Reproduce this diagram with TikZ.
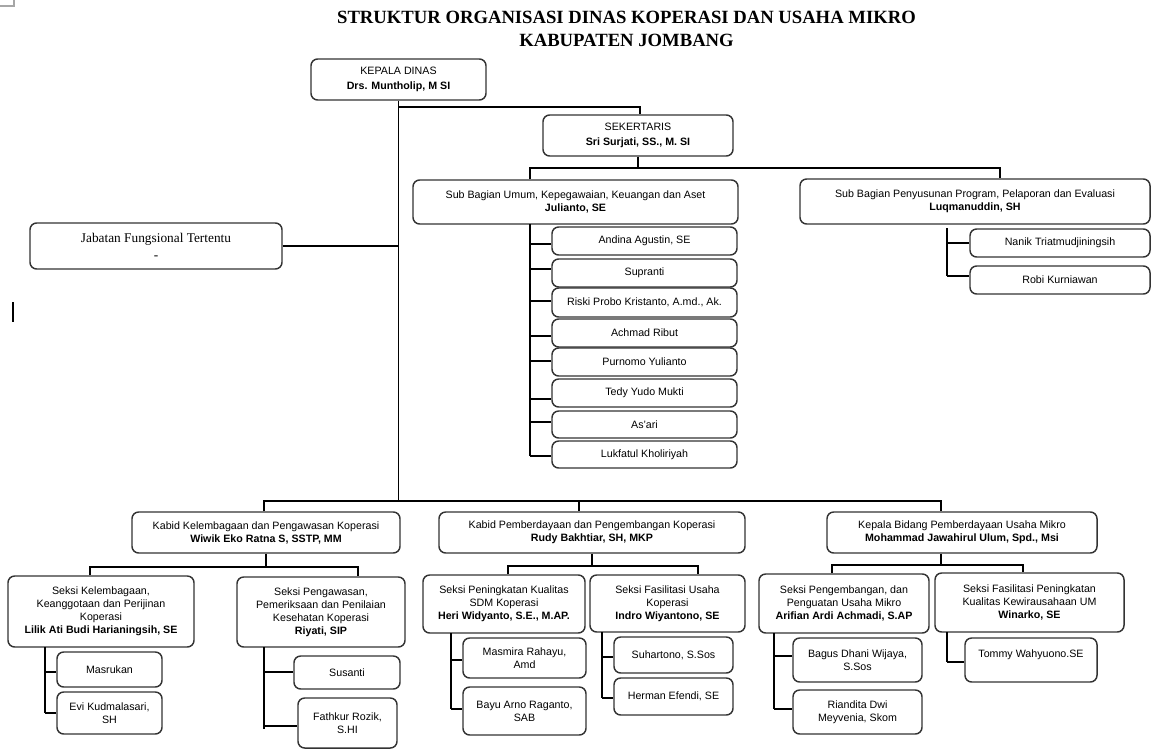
\documentclass[tikz,border=0pt]{standalone}
\usepackage{fontspec}
\setmainfont{Liberation Sans}
\newfontfamily\serifrm{Liberation Serif}

\tikzset{
    box/.style 2 args={draw=black!80, line width=1.1pt, rounded corners=5pt,
        minimum width=#1*0.75pt, minimum height=#2*0.75pt, inner sep=1pt,
        align=center, font=\fontsize{8}{9.75}\selectfont},
    wire/.style={line width=1.1pt},
}

\begin{document}
\begin{tikzpicture}[x=0.75pt, y=-0.75pt]
    \useasboundingbox (0,0) rectangle (1152,751);

    % page corner and cursor
    \draw[black!35, line width=0.8pt] (0,6) -- (14,6) -- (14,0);
    \draw[line width=1.4pt] (13,302) -- (13,322);

    % Title
    \node[align=center, font=\serifrm\bfseries\fontsize{14}{17}\selectfont] (title) at (626.5,29)
        {STRUKTUR ORGANISASI DINAS KOPERASI DAN USAHA MIKRO\\KABUPATEN JOMBANG};

    % Kepala dinas, sekertaris, jabatan fungsional
    \node[box={175}{41}] (kd) at (398.5,79.5) {KEPALA DINAS\\[1.5pt]\textbf{Drs. Muntholip, M SI}};
    \node[box={190}{41}] (sek) at (638,135.5) {SEKERTARIS\\[1.5pt]\textbf{Sri Surjati, SS., M. SI}};
    \node[box={252}{46}, font=\serifrm\fontsize{10}{12.75}\selectfont] (jft) at (156,246)
        {Jabatan Fungsional Tertentu\\-};

    \coordinate (kdR) at (640,107);
    \coordinate (busL) at (264,501);
    \coordinate (busM) at (579,501);
    \coordinate (busR) at (941,501);
    \draw[wire] (kd.south) -- (kd.south |- busL);
    \draw[wire] (kd.south |- kdR) -- (kdR) -- (sek.north -| kdR);
    \draw[wire] (jft.east) -- (jft.east -| kd.south);

    % Sub bagian
    \node[box={325}{44}] (sbu) at (575.5,202) {Sub Bagian Umum, Kepegawaian, Keuangan dan Aset\\\textbf{Julianto, SE}};
    \node[box={350}{45}] (sbp) at (975,201.5) {Sub Bagian Penyusunan Program, Pelaporan dan Evaluasi\\\textbf{Luqmanuddin, SH}};
    \coordinate (sekL) at (530,168);
    \coordinate (sekR) at (1000,168);
    \draw[wire] (sek.south) -- (sek.south |- sekL);
    \draw[wire] (sbu.north -| sekL) |- (sekR) -- (sbp.north -| sekR);

    % staf umum
    \coordinate (spU) at (530,224);
    \draw[wire] (spU) -- (spU |- 0,456);
    \foreach \n/\y/\h/\s/\t in {andina/241/28/244/{Andina Agustin, SE}, supranti/273/28/269/Supranti,
        riski/302.5/29/301/{Riski Probo Kristanto, A.md., Ak.}, achmad/333/28/336/Achmad Ribut,
        purnomo/362/28/361/Purnomo Yulianto, tedy/393/28/399/Tedy Yudo Mukti,
        asari/424.5/27/422/As'ari, lukfatul/454.5/27/456/Lukfatul Kholiriyah} {
        \node[box={185}{\h}] (\n) at (644.5,\y) {\t};
        \draw[wire] (spU |- 0,\s) -- (\n.west |- 0,\s);
    }

    % staf penyusunan program
    \coordinate (spP) at (947,228);
    \draw[wire] (spP) -- (spP |- 0,276);
    \foreach \n/\y/\s/\t in {nanik/243/243/Nanik Triatmudjiningsih, robi/280/276/Robi Kurniawan} {
        \node[box={180}{28}] (\n) at (1060,\y) {\t};
        \draw[wire] (spP |- 0,\s) -- (\n.west |- 0,\s);
    }

    % Kabid
    \node[box={268}{41}] (kk) at (266,532.5) {Kabid Kelembagaan dan Pengawasan Koperasi\\\textbf{Wiwik Eko Ratna S, SSTP, MM}};
    \node[box={306}{41}] (kp) at (592,532.5) {Kabid Pemberdayaan dan Pengembangan Koperasi\\\textbf{Rudy Bakhtiar, SH, MKP}};
    \node[box={270}{41}] (kum) at (962,532.5) {Kepala Bidang Pemberdayaan Usaha Mikro\\\textbf{Mohammad Jawahirul Ulum, Spd., Msi}};
    \draw[wire] (kk.north -| busL) |- (busR) -- (kum.north -| busR);
    \draw[wire] (busM) -- (kp.north -| busM);

    % Seksi under kabid kelembagaan
    \node[box={186}{71}] (skk) at (101,611.5) {Seksi Kelembagaan,\\Keanggotaan dan Perijinan\\Koperasi\\\textbf{Lilik Ati Budi Harianingsih, SE}};
    \node[box={168}{70}] (spw) at (321,612) {Seksi Pengawasan,\\Pemeriksaan dan Penilaian\\Kesehatan Koperasi\\\textbf{Riyati, SIP}};
    \coordinate (kkL) at (90,567);
    \coordinate (kkR) at (358,567);
    \draw[wire] (kk.south) -- (kk.south |- kkL);
    \draw[wire] (skk.north -| kkL) |- (kkR) -- (spw.north -| kkR);

    \node[box={105}{35}] (masrukan) at (109.5,669.5) {Masrukan};
    \node[box={105}{42}] (evi) at (109.5,713) {Evi Kudmalasari,\\SH};
    \node[box={106}{33}] (susanti) at (347,672.5) {Susanti};
    \node[box={99}{50}] (fathkur) at (347.5,723) {Fathkur Rozik,\\S.HI};
    \coordinate (spK) at (45,647);
    \coordinate (spW) at (264,647);
    \draw[wire] (spK) -- (spK |- 0,713);
    \draw[wire] (spW) -- (spW |- 0,729);
    \foreach \n/\s in {masrukan/672, evi/713} \draw[wire] (spK |- 0,\s) -- (\n.west |- 0,\s);
    \foreach \n/\s in {susanti/672, fathkur/726} \draw[wire] (spW |- 0,\s) -- (\n.west |- 0,\s);

    % Seksi under kabid pemberdayaan koperasi
    \node[box={162}{58}] (spk) at (504,604) {Seksi Peningkatan Kualitas\\SDM Koperasi\\\textbf{Heri Widyanto, S.E., M.AP.}};
    \node[box={155}{57}] (sfu) at (667.5,603.5) {Seksi Fasilitasi Usaha\\Koperasi\\\textbf{Indro Wiyantono, SE}};
    \coordinate (kpL) at (508,566);
    \coordinate (kpR) at (698,566);
    \draw[wire] (kp.south) -- (kp.south |- kpL);
    \draw[wire] (spk.north -| kpL) |- (kpR) -- (sfu.north -| kpR);

    \node[box={123}{40}] (masmira) at (524.5,658) {Masmira Rahayu,\\Amd};
    \node[box={123}{48}] (bayu) at (524.5,711) {Bayu Arno Raganto,\\SAB};
    \node[box={119}{36}] (suhartono) at (673.5,655) {Suhartono, S.Sos};
    \node[box={119}{37}] (herman) at (673.5,696.5) {Herman Efendi, SE};
    \coordinate (spQ) at (451,633);
    \coordinate (spF) at (602,632);
    \draw[wire] (spQ) -- (spQ |- 0,709);
    \draw[wire] (spF) -- (spF |- 0,698);
    \foreach \n/\s in {masmira/660, bayu/709} \draw[wire] (spQ |- 0,\s) -- (\n.west |- 0,\s);
    \foreach \n/\s in {suhartono/657, herman/698} \draw[wire] (spF |- 0,\s) -- (\n.west |- 0,\s);

    % Seksi under kepala bidang usaha mikro
    \node[box={170}{59}] (spg) at (844,603.5) {Seksi Pengembangan, dan\\Penguatan Usaha Mikro\\\textbf{Arifian Ardi Achmadi, S.AP}};
    \node[box={189}{59}] (sfp) at (1029.5,602.5) {Seksi Fasilitasi Peningkatan\\Kualitas Kewirausahaan UM\\\textbf{Winarko, SE}};
    \coordinate (kumL) at (832,565);
    \coordinate (kumR) at (1023,565);
    \draw[wire] (kum.south -| busR) -- (busR |- kumL);
    \draw[wire] (spg.north -| kumL) |- (kumR) -- (sfp.north -| kumR);

    \node[box={129}{44}] (bagus) at (857.5,660) {Bagus Dhani Wijaya,\\S.Sos};
    \node[box={129}{44}] (riandita) at (857.5,712) {Riandita Dwi\\Meyvenia, Skom};
    \node[box={132}{44}] (tommy) at (1031,660) {Tommy Wahyuono.SE\\~};
    \coordinate (spG) at (774,633);
    \coordinate (spT) at (947,632);
    \draw[wire] (spG) -- (spG |- 0,709);
    \draw[wire] (spT) -- (spT |- 0,662);
    \foreach \n/\s in {bagus/656, riandita/709} \draw[wire] (spG |- 0,\s) -- (\n.west |- 0,\s);
    \draw[wire] (spT |- 0,662) -- (tommy.west |- 0,662);

\end{tikzpicture}
\end{document}
